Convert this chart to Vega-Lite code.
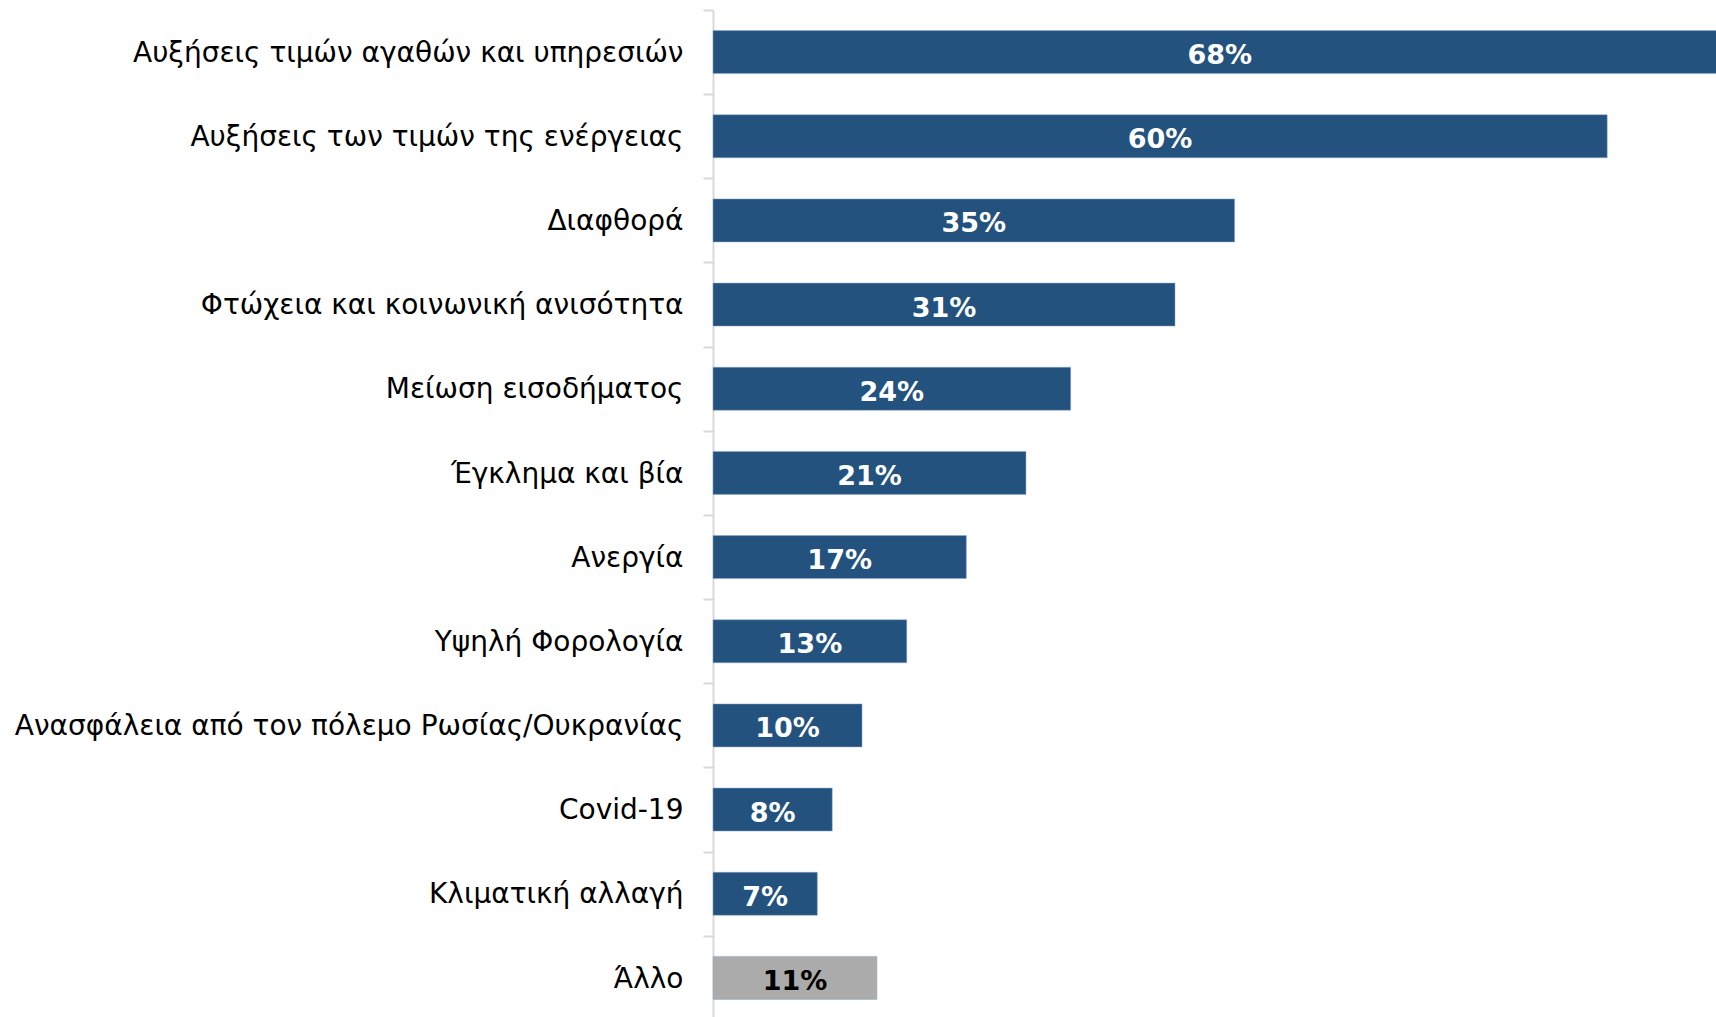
{
  "$schema": "https://vega.github.io/schema/vega-lite/v6.json",
  "width": 1003,
  "height": 1010,
  "autosize": {"type": "none"},
  "padding": {"left": 713, "top": 10, "right": 0, "bottom": 0},
  "background": "white",
  "config": {"view": {"stroke": null}},
  "data": {
    "values": [
      {"category": "Αυξήσεις τιμών αγαθών και υπηρεσιών", "value": 0.68},
      {"category": "Αυξήσεις των τιμών της ενέργειας", "value": 0.60},
      {"category": "Διαφθορά", "value": 0.35},
      {"category": "Φτώχεια και κοινωνική ανισότητα", "value": 0.31},
      {"category": "Μείωση εισοδήματος", "value": 0.24},
      {"category": "Έγκλημα και βία", "value": 0.21},
      {"category": "Ανεργία", "value": 0.17},
      {"category": "Υψηλή Φορολογία", "value": 0.13},
      {"category": "Ανασφάλεια από τον πόλεμο Ρωσίας/Ουκρανίας", "value": 0.10},
      {"category": "Covid-19", "value": 0.08},
      {"category": "Κλιματική αλλαγή", "value": 0.07},
      {"category": "Άλλο", "value": 0.11}
    ]
  },
  "encoding": {
    "y": {
      "field": "category",
      "type": "nominal",
      "sort": null,
      "scale": {"paddingInner": 0.489, "paddingOuter": 0.2445},
      "axis": {
        "title": null,
        "labelFont": "DejaVu Sans",
        "labelFontSize": 28,
        "labelColor": "#000000",
        "labelPadding": 20,
        "labelLimit": 0,
        "labelOffset": 21.8,
        "tickSize": 10,
        "tickColor": "#D9D9D9",
        "tickWidth": 2,
        "bandPosition": 0,
        "tickOffset": -20.6,
        "domainColor": "#D9D9D9",
        "domainWidth": 2
      }
    }
  },
  "layer": [
    {
      "mark": {"type": "bar", "stroke": "#8EA9C8", "strokeWidth": 0.5},
      "encoding": {
        "x": {
          "field": "value",
          "type": "quantitative",
          "scale": {"domain": [0, 0.673], "nice": false, "zero": true},
          "axis": null
        },
        "color": {
          "condition": {"test": "datum.category === 'Άλλο'", "value": "#ABABAB"},
          "value": "#23527F"
        }
      }
    },
    {
      "mark": {"type": "text", "font": "DejaVu Sans", "fontSize": 27, "fontWeight": "bold", "align": "center", "baseline": "middle", "dy": 4},
      "encoding": {
        "x": {
          "field": "value",
          "type": "quantitative",
          "scale": {"domain": [0, 1.346], "nice": false, "zero": true},
          "axis": null
        },
        "text": {"field": "value", "type": "quantitative", "format": ".0%"},
        "color": {
          "condition": {"test": "datum.category === 'Άλλο'", "value": "#000000"},
          "value": "#FFFFFF"
        }
      }
    }
  ],
  "resolve": {"scale": {"x": "independent"}}
}
